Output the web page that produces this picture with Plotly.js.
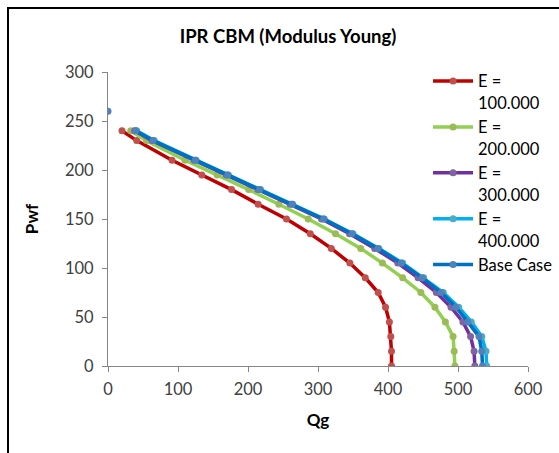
<!DOCTYPE html>
<html>
<head>
<meta charset="utf-8">
<script src="https://cdn.plot.ly/plotly-3.0.1.min.js"></script>
<style>
  html, body { margin: 0; padding: 0; background: #fff; }
  #chart { width: 559px; height: 453px; position: absolute; left: 0; top: 0; }
  #frame { position: absolute; left: 7px; top: 7px; width: 560px; height: 460px;
           border-left: 2px solid #000; border-top: 2px solid #000; pointer-events: none; }
</style>
</head>
<body>
<div id="chart"></div>
<div id="frame"></div>
<script>
// Pwf levels (shared by all series)
const pwf = [240, 230, 210, 195, 180, 165, 150, 135, 120, 105, 90, 75, 60, 45, 30, 15, 0];

// Qg values per series
const qE100 = [20, 41, 91.5, 134, 176.5, 214.5, 255, 289, 319, 345.5, 367.5, 386, 396.5, 402, 404, 405, 405];
const qE200 = [32.5, 55, 110, 156, 201, 244, 286, 325, 361, 392, 421, 447, 467, 482, 493, 494.5, 495.5];
const qE300 = [38, 63, 123, 169, 214, 260, 305, 345, 381, 414, 443, 469, 490, 507, 518, 523, 524];
const qE400 = [41, 66, 126, 172, 218, 264, 309, 350, 387, 421, 451, 479, 501, 519, 534, 540, 541];
const qBase = [39.6, 64.5, 124.8, 171, 216.5, 263, 308, 348.6, 385.5, 419, 449, 476, 497, 514, 530, 534, 535];

// Initial reservoir point (Base Case)
const initQ = [0];
const initP = [260];

const names = ["E =<br>100.000", "E =<br>200.000", "E =<br>300.000", "E =<br>400.000", "Base Case"];
const lineColors = ["#C00000", "#92D050", "#7030A0", "#00B0F0", "#0070C0"];
const markerColors = ["#C0504D", "#9BBB59", "#8064A2", "#4BACC6", "#4F81BD"];
const seriesQ = [qE100, qE200, qE300, qE400, qBase];

const traces = seriesQ.map((q, i) => ({
  x: q, y: pwf, type: "scatter", mode: "lines+markers", name: names[i],
  line: { color: lineColors[i], width: 3.5 },
  marker: { color: markerColors[i], size: 7 },
  legendgroup: "g" + i
}));

traces.push({
  x: initQ, y: initP, type: "scatter", mode: "markers", showlegend: false,
  marker: { color: "#4F81BD", size: 7 }
});

const font = "Lato, 'Open Sans', sans-serif";

const layout = {
  width: 559, height: 453,
  margin: { l: 108, r: 31, t: 72, b: 87, autoexpand: false },
  paper_bgcolor: "#fff", plot_bgcolor: "#fff",
  font: { family: font, size: 16, color: "#404040" },
  title: {
    text: "<b>IPR CBM (Modulus Young)</b>",
    font: { family: font, size: 18.5, color: "#000" },
    xref: "container", yref: "container",
    x: 288 / 559, xanchor: "center", y: 1 - 37 / 453, yanchor: "middle"
  },
  xaxis: {
    range: [0, 600], dtick: 100, tick0: 0,
    showgrid: false, zeroline: false,
    showline: true, linecolor: "#868686", linewidth: 1,
    ticks: "outside", ticklen: 5, tickcolor: "#868686",
    ticklabelstandoff: 3,
    tickfont: { family: font, size: 16.5, color: "#404040" },
    title: { text: "<b>Qg</b>", font: { family: font, size: 17, color: "#000" }, standoff: 16 }
  },
  yaxis: {
    range: [0, 300], dtick: 50, tick0: 0,
    showgrid: false, zeroline: false,
    showline: true, linecolor: "#868686", linewidth: 1,
    ticks: "outside", ticklen: 5, tickcolor: "#868686",
    ticklabelstandoff: 5,
    tickfont: { family: font, size: 16.5, color: "#404040" },
    title: { text: "<b>Pwf</b>", font: { family: font, size: 17, color: "#000" }, standoff: 22 }
  },
  legend: {
    x: 0.762, xanchor: "left", y: 1.028, yanchor: "top",
    bgcolor: "rgba(0,0,0,0)",
    font: { family: font, size: 16.5, color: "#000" },
    valign: "top", tracegroupgap: 0, itemwidth: 40
  },
  showlegend: true
};

Plotly.newPlot("chart", traces, layout, { staticPlot: true, displayModeBar: false });
</script>
</body>
</html>
